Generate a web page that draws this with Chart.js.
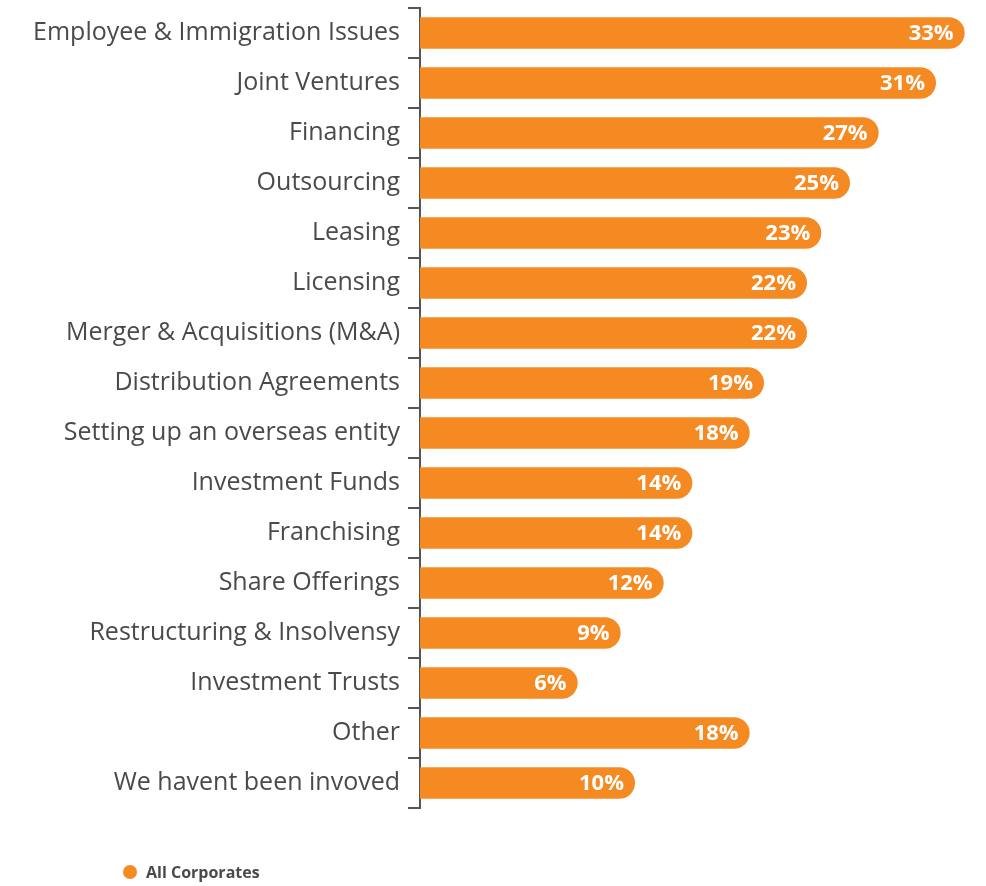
<!DOCTYPE html>
<html>
<head>
<meta charset="utf-8">
<script src="https://cdn.jsdelivr.net/npm/chart.js@4"></script>
<style>
  html, body { margin: 0; padding: 0; background: #fff; }
  #wrap { position: relative; width: 986px; height: 886px; }
  #legend {
    position: absolute; left: 123px; top: 861px;
    font: bold 16px "Open Sans", sans-serif; color: #4a4a4a;
    display: flex; align-items: center;
  }
  #legend span.dot {
    width: 14px; height: 14px; border-radius: 50%;
    margin-right: 9px; display: inline-block;
  }
</style>
</head>
<body>
<div id="wrap">
  <canvas id="chart" width="986" height="886"></canvas>
  <div id="legend"></div>
</div>
<script>
const categories = [
  'Employee & Immigration Issues',
  'Joint Ventures',
  'Financing',
  'Outsourcing',
  'Leasing',
  'Licensing',
  'Merger & Acquisitions (M&A)',
  'Distribution Agreements',
  'Setting up an overseas entity',
  'Investment Funds',
  'Franchising',
  'Share Offerings',
  'Restructuring & Insolvensy',
  'Investment Trusts',
  'Other',
  'We havent been invoved'
];
const allCorporates = [33, 31, 27, 25, 23, 22, 22, 19, 18, 14, 14, 12, 9, 6, 18, 10];
const seriesName = 'All Corporates';
const orange = '#f58a22';
const axisMin = -5;

// writes the percentage inside the rounded end of each bar
const barValueLabels = {
  id: 'barValueLabels',
  afterDatasetsDraw(chart) {
    const ctx = chart.ctx;
    const meta = chart.getDatasetMeta(0);
    ctx.save();
    ctx.font = 'bold 22px "Open Sans", sans-serif';
    ctx.fillStyle = '#fff';
    ctx.textAlign = 'right';
    ctx.textBaseline = 'middle';
    meta.data.forEach((bar, i) => {
      ctx.fillText(allCorporates[i] + '%', bar.x - 11, bar.y + 1);
    });
    ctx.restore();
  }
};

const chart = new Chart(document.getElementById('chart').getContext('2d'), {
  type: 'bar',
  data: {
    labels: categories,
    datasets: [{
      label: seriesName,
      data: allCorporates,
      base: axisMin,
      backgroundColor: orange,
      borderRadius: 16,
      borderSkipped: 'start',
      categoryPercentage: 1,
      barPercentage: 0.63
    }]
  },
  options: {
    indexAxis: 'y',
    responsive: false,
    animation: false,
    layout: { padding: { top: 8, bottom: 78, right: 7, left: 0 } },
    plugins: {
      legend: { display: false },
      tooltip: { enabled: false }
    },
    scales: {
      x: {
        display: false,
        min: axisMin,
        max: 34
      },
      y: {
        afterFit(scale) {
          scale.width = 420;
          scale.paddingTop = 0;
          scale.paddingBottom = 0;
        },
        border: { display: true, color: '#555', width: 2 },
        grid: {
          drawOnChartArea: false,
          drawTicks: true,
          tickLength: 12,
          color: '#555',
          lineWidth: 2,
          offset: true
        },
        ticks: {
          padding: 8,
          color: '#4a4a4a',
          font: { family: '"Open Sans", sans-serif', size: 25 }
        }
      }
    }
  },
  plugins: [barValueLabels]
});

// simple legend under the plot
const legend = document.getElementById('legend');
chart.data.datasets.forEach(ds => {
  const dot = document.createElement('span');
  dot.className = 'dot';
  dot.style.background = ds.backgroundColor;
  legend.appendChild(dot);
  legend.appendChild(document.createTextNode(ds.label));
});
</script>
</body>
</html>
